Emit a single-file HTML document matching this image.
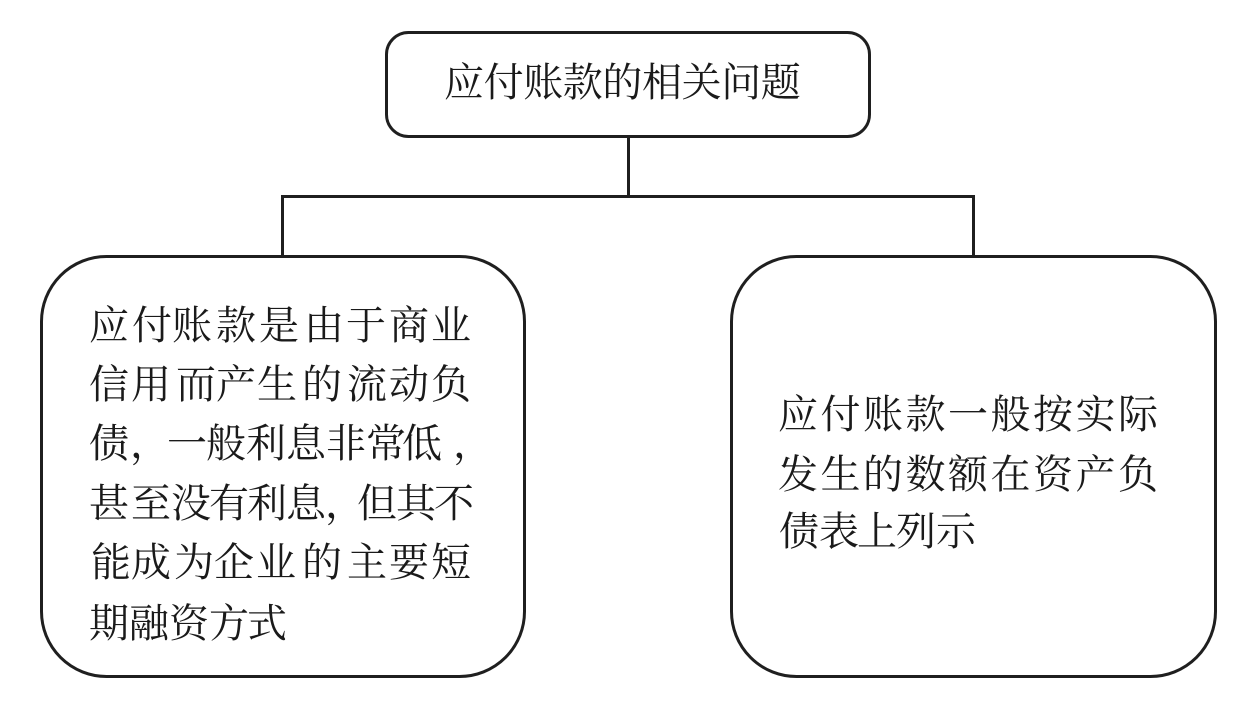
<!DOCTYPE html>
<html lang="zh"><head><meta charset="utf-8"><title>应付账款的相关问题</title>
<style>html,body{margin:0;padding:0;background:#fff}svg{display:block}
text{font-family:"Liberation Serif","Noto Serif CJK SC",serif;font-size:40px;fill:#1a1a1a}</style></head>
<body><svg width="1242" height="717" viewBox="0 0 1242 717" xmlns="http://www.w3.org/2000/svg">
<rect width="1242" height="717" fill="#fff"/>
<g fill="none" stroke="#1f1f1f" stroke-width="3">
<rect x="386.5" y="32.5" width="483" height="104" rx="22" ry="22"/>
<rect x="41.5" y="256.5" width="483" height="420" rx="65" ry="65"/>
<rect x="731.5" y="256.5" width="484" height="420" rx="65" ry="65"/>
<path d="M628.5 137V196M282.5 256V196.5H973.5V256"/>
</g>
<text y="96" x="444 483.6 523.2 562.8 602.4 642 681.6 721.2 760.8">应付账款的相关问题</text>
<text y="339" x="89 132 172 216 259 304 346 389 431">应付账款是由于商业</text>
<text y="398" x="89 131 176 216 257 302 347 389 431">信用而产生的流动负</text>
<text y="457" x="89 130 167 206 246 286 326 366 402 453">债，一般利息非常低，</text>
<text y="517" x="89 131 171 209 247 286 325 357 396 434">甚至没有利息，但其不</text>
<text y="576" x="91 131 174 214 256 302 347 389 431">能成为企业的主要短</text>
<text y="637" x="89 129 169 209 247">期融资方式</text>
<text y="428" x="778 820.5 863 905.5 948 990.5 1033 1075.5 1118">应付账款一般按实际</text>
<text y="488" x="778 820.5 863 905.5 948 990.5 1033 1075.5 1118">发生的数额在资产负</text>
<text y="545" x="779 819 857 896 936">债表上列示</text>
</svg></body></html>
